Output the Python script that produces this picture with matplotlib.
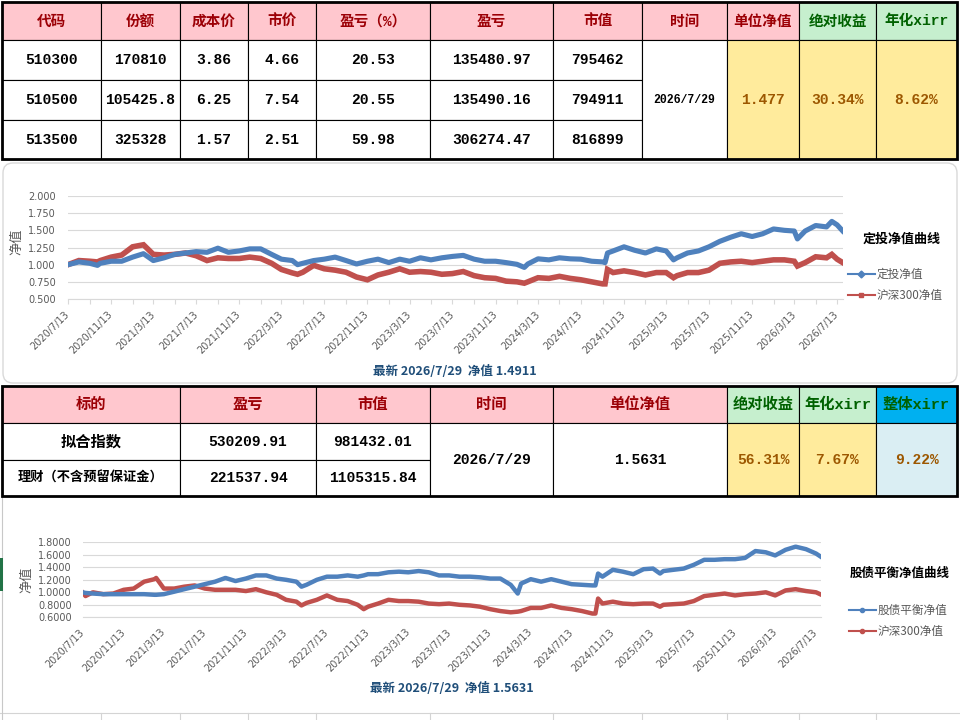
import matplotlib
matplotlib.use("Agg")
import matplotlib.pyplot as plt
import matplotlib.dates as mdates
import pandas as pd
from matplotlib.patches import Rectangle, FancyBboxPatch
from matplotlib.lines import Line2D
from matplotlib.ticker import FixedLocator, FuncFormatter
from matplotlib.font_manager import FontProperties

CJK = ["Noto Sans CJK SC", "DejaVu Sans"]
MONO = ["Liberation Mono", "Noto Sans CJK SC"]

PINK, PINK_TXT = "#FFC7CE", "#9C0006"
GREEN, GREEN_TXT = "#C6EFCE", "#006100"
YELLOW, YELLOW_TXT = "#FFEB9C", "#9C5700"
CYAN, LIGHT_BLUE = "#00B0F0", "#DAEEF3"
BLUE, RED = "#4F81BD", "#C0504D"
GRID, TICK_TXT, TITLE_BLUE = "#D9D9D9", "#595959", "#1F4E79"

# ---- top table data
top_headers = ["代码", "份额", "成本价", "市价", "盈亏（%）", "盈亏", "市值",
               "时间", "单位净值", "绝对收益", "年化xirr"]
top_codes = ["510300", "510500", "513500"]
top_shares = ["170810", "105425.8", "325328"]
top_cost = ["3.86", "6.25", "1.57"]
top_price = ["4.66", "7.54", "2.51"]
top_pnl_pct = ["20.53", "20.55", "59.98"]
top_pnl = ["135480.97", "135490.16", "306274.47"]
top_value = ["795462", "794911", "816899"]
top_date = "2026/7/29"
top_nav = "1.477"
top_abs_ret = "30.34%"
top_xirr = "8.62%"

# ---- second table data
mid_headers = ["标的", "盈亏", "市值", "时间", "单位净值", "绝对收益", "年化xirr", "整体xirr"]
mid_names = ["拟合指数", "理财（不含预留保证金）"]
mid_pnl = ["530209.91", "221537.94"]
mid_value = ["981432.01", "1105315.84"]
mid_date = "2026/7/29"
mid_nav = "1.5631"
mid_abs_ret = "56.31%"
mid_xirr = "7.67%"
mid_total_xirr = "9.22%"

# ---- chart 1: 定投净值 vs 沪深300
c1_dates = ["2020-07-13", "2020-08-13", "2020-09-13", "2020-10-05", "2020-10-13", "2020-11-13",
            "2020-12-13", "2021-01-13", "2021-02-13", "2021-03-13", "2021-04-13", "2021-05-13",
            "2021-06-13", "2021-07-13", "2021-08-13", "2021-09-13", "2021-10-13", "2021-11-13",
            "2021-12-13", "2022-01-13", "2022-02-13", "2022-03-13", "2022-04-13", "2022-04-28",
            "2022-05-13", "2022-06-13", "2022-07-13", "2022-08-13", "2022-09-13", "2022-10-13",
            "2022-11-13", "2022-12-13", "2023-01-13", "2023-02-13", "2023-03-13", "2023-04-13",
            "2023-05-13", "2023-06-13", "2023-07-13", "2023-08-13", "2023-09-13", "2023-10-13",
            "2023-11-13", "2023-12-13", "2024-01-13", "2024-02-03", "2024-02-13", "2024-03-13",
            "2024-04-13", "2024-05-13", "2024-06-13", "2024-07-13", "2024-08-13", "2024-09-13",
            "2024-09-20", "2024-09-27", "2024-10-13", "2024-11-13", "2024-12-13", "2025-01-13",
            "2025-02-13", "2025-03-13", "2025-04-03", "2025-04-13", "2025-05-13", "2025-06-13",
            "2025-07-13", "2025-08-13", "2025-09-13", "2025-10-13", "2025-11-13", "2025-12-13",
            "2026-01-13", "2026-02-13", "2026-03-13", "2026-03-22", "2026-04-13", "2026-05-13",
            "2026-06-13", "2026-06-28", "2026-07-13", "2026-07-29"]
c1_dingtou = [1.00, 1.04, 1.02, 0.99, 1.02, 1.05,
              1.05, 1.11, 1.16, 1.06, 1.10, 1.15,
              1.17, 1.19, 1.18, 1.24, 1.18, 1.20,
              1.23, 1.23, 1.15, 1.08, 1.06, 1.00,
              1.02, 1.06, 1.08, 1.11, 1.06, 1.01,
              1.05, 1.08, 1.03, 1.08, 1.05, 1.10,
              1.07, 1.10, 1.12, 1.135, 1.08, 1.05,
              1.05, 1.03, 1.005, 0.96, 1.01, 1.085,
              1.07, 1.10, 1.085, 1.08, 1.05, 1.04,
              1.03, 1.17, 1.20, 1.26, 1.21, 1.17,
              1.23, 1.20, 1.07, 1.10, 1.17, 1.20,
              1.26, 1.34, 1.40, 1.45, 1.41, 1.45,
              1.52, 1.50, 1.49, 1.375, 1.49, 1.57,
              1.55, 1.63, 1.58, 1.4911]
c1_hs300 = [1.00, 1.06, 1.05, 1.04, 1.06, 1.11,
            1.14, 1.26, 1.29, 1.15, 1.14, 1.15,
            1.17, 1.13, 1.06, 1.10, 1.09, 1.09,
            1.11, 1.09, 1.02, 0.93, 0.88, 0.86,
            0.89, 0.99, 0.94, 0.92, 0.89, 0.82,
            0.78, 0.85, 0.89, 0.94, 0.89, 0.90,
            0.89, 0.86, 0.87, 0.90, 0.84, 0.81,
            0.80, 0.76, 0.75, 0.73, 0.75, 0.81,
            0.80, 0.83, 0.80, 0.78, 0.75, 0.72,
            0.72, 0.93, 0.885, 0.91, 0.885, 0.85,
            0.885, 0.885, 0.81, 0.84, 0.885, 0.885,
            0.92, 1.02, 1.04, 1.05, 1.03, 1.05,
            1.07, 1.07, 1.05, 0.98, 1.03, 1.115,
            1.10, 1.15, 1.08, 1.03]
c1_labels = ["定投净值", "沪深300净值"]
c1_legend_title = "定投净值曲线"
c1_note = "最新 2026/7/29  净值 1.4911"

# ---- chart 2: 股债平衡净值 vs 沪深300
c2_dates = ["2020-07-13", "2020-07-22", "2020-08-13", "2020-09-13", "2020-10-13", "2020-11-13",
            "2020-12-13", "2021-01-13", "2021-02-13", "2021-02-18", "2021-03-13", "2021-04-13",
            "2021-05-13", "2021-06-13", "2021-07-13", "2021-08-13", "2021-09-13", "2021-10-13",
            "2021-11-13", "2021-12-13", "2022-01-13", "2022-02-13", "2022-03-13", "2022-04-13",
            "2022-04-28", "2022-05-13", "2022-06-13", "2022-07-13", "2022-08-13", "2022-09-13",
            "2022-10-13", "2022-10-31", "2022-11-13", "2022-12-13", "2023-01-13", "2023-02-13",
            "2023-03-13", "2023-04-13", "2023-05-13", "2023-06-13", "2023-07-13", "2023-08-13",
            "2023-09-13", "2023-10-13", "2023-11-13", "2023-12-13", "2024-01-13", "2024-02-03",
            "2024-02-13", "2024-03-13", "2024-04-13", "2024-05-13", "2024-06-13", "2024-07-13",
            "2024-08-13", "2024-09-13", "2024-09-22", "2024-09-30", "2024-10-13", "2024-11-13",
            "2024-12-13", "2025-01-13", "2025-02-13", "2025-03-13", "2025-04-03", "2025-04-13",
            "2025-05-13", "2025-06-13", "2025-07-13", "2025-08-13", "2025-09-13", "2025-10-13",
            "2025-11-13", "2025-12-13", "2026-01-13", "2026-02-13", "2026-03-13", "2026-04-13",
            "2026-05-13", "2026-06-13", "2026-07-13", "2026-07-29"]
c2_balance = [1.00, 0.99, 0.98, 0.97, 0.97, 0.97,
              0.97, 0.97, 0.96, 0.96, 0.97, 1.01,
              1.05, 1.09, 1.13, 1.17, 1.23, 1.18,
              1.22, 1.27, 1.27, 1.22, 1.20, 1.17,
              1.09, 1.12, 1.20, 1.25, 1.25, 1.27,
              1.25, 1.27, 1.29, 1.29, 1.32, 1.33,
              1.32, 1.34, 1.32, 1.27, 1.27, 1.25,
              1.25, 1.24, 1.22, 1.22, 1.12, 0.98,
              1.14, 1.21, 1.17, 1.21, 1.17, 1.13,
              1.12, 1.11, 1.11, 1.30, 1.25, 1.36,
              1.33, 1.29, 1.37, 1.38, 1.30, 1.34,
              1.36, 1.38, 1.44, 1.52, 1.52, 1.53,
              1.53, 1.55, 1.66, 1.64, 1.59, 1.68,
              1.73, 1.69, 1.62, 1.5631]
c2_hs300 = [1.00, 0.94, 1.00, 0.97, 0.98, 1.04,
            1.06, 1.17, 1.21, 1.23, 1.06, 1.06,
            1.09, 1.11, 1.06, 1.04, 1.04, 1.04,
            1.02, 1.05, 1.00, 0.96, 0.88, 0.85,
            0.79, 0.83, 0.88, 0.95, 0.88, 0.86,
            0.80, 0.73, 0.77, 0.82, 0.88, 0.86,
            0.86, 0.85, 0.82, 0.81, 0.82, 0.80,
            0.79, 0.77, 0.73, 0.70, 0.68, 0.69,
            0.70, 0.75, 0.75, 0.79, 0.75, 0.73,
            0.70, 0.66, 0.66, 0.90, 0.82, 0.85,
            0.82, 0.81, 0.82, 0.82, 0.77, 0.80,
            0.81, 0.82, 0.86, 0.94, 0.96, 0.98,
            0.95, 0.97, 0.98, 1.00, 0.95, 1.03,
            1.05, 1.02, 1.00, 0.96]
c2_labels = ["股债平衡净值", "沪深300净值"]
c2_legend_title = "股债平衡净值曲线"
c2_note = "最新 2026/7/29  净值 1.5631"

W, H = 960, 720
fig = plt.figure(figsize=(9.6, 7.2), dpi=100)
bg = fig.add_axes([0, 0, 1, 1])
bg.set_xlim(0, W)
bg.set_ylim(H, 0)
bg.axis("off")


def cell(x0, x1, y0, y1, fill="white", text="", color="black", size=10.5, family=MONO):
    bg.add_patch(Rectangle((x0, y0), x1 - x0, y1 - y0, facecolor=fill,
                           edgecolor="black", lw=0.8, zorder=1))
    if text:
        bg.text((x0 + x1) / 2, (y0 + y1) / 2 + 0.5, text, ha="center", va="center",
                color=color, fontsize=size, family=family, weight="bold", zorder=3)


def frame(x0, x1, y0, y1):
    bg.add_patch(Rectangle((x0, y0), x1 - x0, y1 - y0, facecolor="none",
                           edgecolor="black", lw=2.0, zorder=4))


# ---- top table
tc = [2, 101, 180, 248, 316, 430, 553, 642, 727, 799, 876, 957]
tr = [2, 40, 80, 120, 159]
for i, h in enumerate(top_headers):
    green = h in ("绝对收益", "年化xirr")
    cell(tc[i], tc[i + 1], tr[0], tr[1], GREEN if green else PINK, h,
         GREEN_TXT if green else PINK_TXT)
cols = [top_codes, top_shares, top_cost, top_price, top_pnl_pct, top_pnl, top_value]
for r in range(3):
    for c, col in enumerate(cols):
        cell(tc[c], tc[c + 1], tr[r + 1], tr[r + 2], "white", col[r])
cell(tc[7], tc[8], tr[1], tr[4], "white", top_date, size=8.3)
cell(tc[8], tc[9], tr[1], tr[4], YELLOW, top_nav, YELLOW_TXT)
cell(tc[9], tc[10], tr[1], tr[4], YELLOW, top_abs_ret, YELLOW_TXT)
cell(tc[10], tc[11], tr[1], tr[4], YELLOW, top_xirr, YELLOW_TXT)
frame(tc[0], tc[-1], tr[0], tr[-1])

# ---- second table
mc = [2, 180, 316, 430, 553, 727, 799, 876, 957]
mr = [386, 423, 460, 496]
for i, h in enumerate(mid_headers):
    if h in ("绝对收益", "年化xirr"):
        fill, col = GREEN, GREEN_TXT
    elif h == "整体xirr":
        fill, col = CYAN, GREEN_TXT
    else:
        fill, col = PINK, PINK_TXT
    cell(mc[i], mc[i + 1], mr[0], mr[1], fill, h, col, size=11)
for r in range(2):
    cell(mc[0], mc[1], mr[r + 1], mr[r + 2], "white", mid_names[r],
         size=11 if r == 0 else 9.5)
    cell(mc[1], mc[2], mr[r + 1], mr[r + 2], "white", mid_pnl[r])
    cell(mc[2], mc[3], mr[r + 1], mr[r + 2], "white", mid_value[r])
cell(mc[3], mc[4], mr[1], mr[3], "white", mid_date)
cell(mc[4], mc[5], mr[1], mr[3], "white", mid_nav)
cell(mc[5], mc[6], mr[1], mr[3], YELLOW, mid_abs_ret, YELLOW_TXT)
cell(mc[6], mc[7], mr[1], mr[3], YELLOW, mid_xirr, YELLOW_TXT)
cell(mc[7], mc[8], mr[1], mr[3], LIGHT_BLUE, mid_total_xirr, YELLOW_TXT)
frame(mc[0], mc[-1], mr[0], mr[-1])

# ---- sheet remnants around the second chart
bg.plot([0, W], [713, 713], color="#D4D4D4", lw=0.8, zorder=0)
for x in [101, 180, 248, 316, 430, 553, 642, 727, 799, 876]:
    bg.plot([x, x], [713, H], color="#D4D4D4", lw=0.8, zorder=0)
bg.plot([2, 2], [497, H], color="#C8C8C8", lw=0.8, zorder=0)
bg.add_patch(Rectangle((0, 558), 2.5, 33, facecolor="#217346", edgecolor="none"))

# chart 1 rounded frame
bg.add_patch(FancyBboxPatch((3, 163), 954, 220, boxstyle="round,pad=0,rounding_size=10",
                            facecolor="white", edgecolor=GRID, lw=1, zorder=0.5))


def date_label(v, pos, every4=True):
    d = mdates.num2date(v)
    if every4 and d.month not in (3, 7, 11):
        return ""
    return f"{d.year}/{d.month}/{d.day}"


def style_chart(ax, yticks, fmt, tick_len, xpad, ypad, tick_dates):
    ax.patch.set_alpha(0)
    ax.set_ylim(yticks[0], yticks[-1])
    ax.set_xlim(pd.Timestamp("2020-07-13"), pd.Timestamp("2026-07-29"))
    ax.set_yticks(yticks)
    ax.yaxis.set_major_formatter(FuncFormatter(lambda v, p: fmt % v))
    ax.grid(axis="y", color=GRID, lw=0.8, zorder=0)
    for s in ["top", "right", "left"]:
        ax.spines[s].set_visible(False)
    ax.spines["bottom"].set_color(GRID)
    ax.spines["bottom"].set_linewidth(0.8)
    ax.xaxis.set_major_locator(FixedLocator(mdates.date2num(tick_dates)))
    ax.xaxis.set_major_formatter(FuncFormatter(date_label))
    ax.tick_params(axis="y", length=0, pad=ypad, labelsize=7, labelcolor=TICK_TXT)
    ax.tick_params(axis="x", length=tick_len, color=GRID, width=0.8, pad=xpad,
                   labelsize=7, labelcolor=TICK_TXT, direction="out")
    for lab in ax.get_xticklabels():
        lab.set_rotation(45)
        lab.set_ha("right")
        lab.set_va("center")
        lab.set_rotation_mode("anchor")


# ---- chart 1
ax1 = fig.add_axes([68 / W, 1 - 299 / H, (842.7 - 68) / W, 103 / H])
d1 = pd.to_datetime(c1_dates)
ax1.plot(d1, c1_dingtou, color=BLUE, lw=3.7, solid_joinstyle="round", zorder=3)
ax1.plot(d1, c1_hs300, color=RED, lw=4.0, solid_joinstyle="miter", zorder=2)
ticks1 = pd.date_range("2020-07-13", "2026-07-13", freq=pd.DateOffset(months=2))
style_chart(ax1, [0.5, 0.75, 1.0, 1.25, 1.5, 1.75, 2.0], "%.3f", 3.6, 6.5, 8.7, ticks1)
h1 = [Line2D([], [], color=BLUE, lw=1.5, marker="D", ms=3.5),
      Line2D([], [], color=RED, lw=1.5, marker="s", ms=3.5)]
ax1.legend(h1, c1_labels, loc="center left", bbox_to_anchor=(848 / W, 1 - 285 / H),
           bbox_transform=fig.transFigure, frameon=False, labelcolor=TICK_TXT,
           prop=FontProperties(family=CJK, size=8.4), handlelength=2.3,
           handletextpad=0.15, labelspacing=0.75, borderpad=0, borderaxespad=0)
bg.text(902, 239, c1_legend_title, ha="center", va="center", family=CJK,
        weight="bold", fontsize=9.4, color="black")
bg.text(455, 371, c1_note, ha="center", va="center", family=CJK, weight="bold",
        fontsize=9, color=TITLE_BLUE)
bg.text(17, 242, "净值", rotation=90, ha="center", va="center", family=CJK,
        fontsize=9.5, color=TICK_TXT)

# ---- chart 2
ax2 = fig.add_axes([82.5 / W, 1 - 617.3 / H, (821.4 - 82.5) / W, 75 / H])
d2 = pd.to_datetime(c2_dates)
ax2.plot(d2, c2_balance, color=BLUE, lw=3.2, solid_joinstyle="round", zorder=3)
ax2.plot(d2, c2_hs300, color=RED, lw=3.2, solid_joinstyle="round", zorder=2)
ticks2 = pd.date_range("2020-07-13", "2026-07-13", freq=pd.DateOffset(months=4))
style_chart(ax2, [0.6, 0.8, 1.0, 1.2, 1.4, 1.6, 1.8], "%.4f", 0, 9.5, 7.6, ticks2)
h2 = [Line2D([], [], color=BLUE, lw=1.5, marker="o", ms=3),
      Line2D([], [], color=RED, lw=1.5, marker="o", ms=3)]
ax2.legend(h2, c2_labels, loc="center left", bbox_to_anchor=(849 / W, 1 - 621 / H),
           bbox_transform=fig.transFigure, frameon=False, labelcolor=TICK_TXT,
           prop=FontProperties(family=CJK, size=8.4), handlelength=2.3,
           handletextpad=0.15, labelspacing=0.75, borderpad=0, borderaxespad=0)
bg.text(900, 573, c2_legend_title, ha="center", va="center", family=CJK,
        weight="bold", fontsize=9, color="black")
bg.text(452, 688, c2_note, ha="center", va="center", family=CJK, weight="bold",
        fontsize=9, color=TITLE_BLUE)
bg.text(27, 580, "净值", rotation=90, ha="center", va="center", family=CJK,
        fontsize=9.5, color=TICK_TXT)

fig.savefig("out.png", dpi=100)
